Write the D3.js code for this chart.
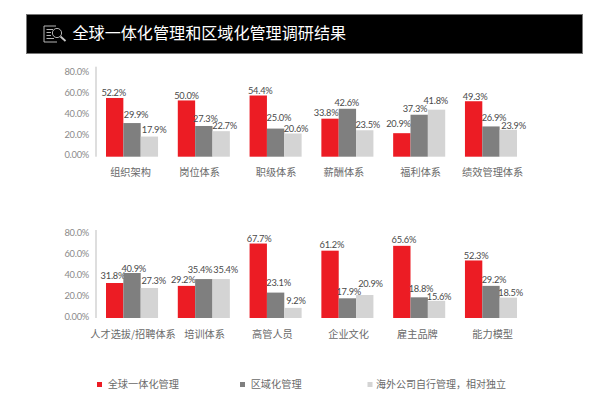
<!DOCTYPE html>
<html>
<head>
<meta charset="utf-8">
<script src="https://cdn.jsdelivr.net/npm/d3@7/dist/d3.min.js"></script>
<style>
  html, body { margin: 0; padding: 0; background: #fff; }
  svg { display: block; }
  text { font-family: "Noto Sans CJK SC", "Noto Sans", sans-serif; }
  .num { font-family: Lato, "Liberation Sans", sans-serif; letter-spacing: -0.25px; }
</style>
</head>
<body>
<svg id="chart" width="600" height="411"></svg>
<script>
const title = "全球一体化管理和区域化管理调研结果";
const seriesNames = ["全球一体化管理", "区域化管理", "海外公司自行管理，相对独立"];
const seriesColors = ["#ec1c24", "#7f7f7f", "#d4d4d4"];
const tickValues = [0, 20, 40, 60, 80];
const tickLabels = ["0.00%", "20.0%", "40.0%", "60.0%", "80.0%"];

const topCategories = ["组织架构", "岗位体系", "职级体系", "薪酬体系", "福利体系", "绩效管理体系"];
const topGlobal = [52.2, 50.0, 54.4, 33.8, 20.9, 49.3];
const topRegional = [29.9, 27.3, 25.0, 42.6, 37.3, 26.9];
const topOverseas = [17.9, 22.7, 20.6, 23.5, 41.8, 23.9];

const bottomCategories = ["人才选拔/招聘体系", "培训体系", "高管人员", "企业文化", "雇主品牌", "能力模型"];
const bottomGlobal = [31.8, 29.2, 67.7, 61.2, 65.6, 52.3];
const bottomRegional = [40.9, 35.4, 23.1, 17.9, 18.8, 29.2];
const bottomOverseas = [27.3, 35.4, 9.2, 20.9, 15.6, 18.5];

// Hand placement of value labels so that neighbours do not collide: [dx, dy] per bar.
const topNudges = [
  [[-1, .6], [4, -2.3], [4.7, -.6]],
  [[0, .7], [1.5, -1.7], [3.5, .3]],
  [[2, .6], [3.3, -4.6], [3, 1]],
  [[-4, 0], [-.7, -.6], [3, .3]],
  [[-3.4, -3.4], [-4.2, -.7], [-.8, -3]],
  [[1.5, 1], [3, -3], [5.3, 1.3]]
];
const bottomNudges = [
  [[-1.8, -2], [1.7, 1], [4.3, -1.3]],
  [[-3.3, -.7], [-3.8, -4], [4.5, -4]],
  [[.8, .6], [3, -3.6], [3, -1.7]],
  [[1.8, .3], [1.3, -1], [5.7, -5.6]],
  [[2, 0], [1.8, -2.7], [2.5, 1.7]],
  [[2.5, .7], [3, -.7], [2.3, .6]]
];

// Category captions do not sit exactly under their groups
const topCaptionShift = [-1.5, -4.2, 0.5, -3.5, 1.5, 1.7];
const bottomCaptionShift = [1, 0.8, -3.2, 1.2, -1.8, 1.7];

const svg = d3.select("#chart");

// Header band with title and report-search icon
svg.append("rect")
  .attr("x", 26.5).attr("y", 14.5).attr("width", 556).attr("height", 39)
  .attr("fill", "#000").attr("stroke", "#777").attr("stroke-width", 1);

const icon = svg.append("g").attr("fill", "none").attr("stroke", "#c8c8c8").attr("stroke-width", 0.9);
icon.append("path").attr("d", "M56 26H44V42H57");
icon.append("path").attr("d", "M46.5 29.5H53M46.5 32.5H51M46.5 35.5H51M46.5 38.5H54");
icon.append("circle").attr("cx", 57).attr("cy", 33).attr("r", 4.6);
icon.append("path").attr("d", "M60.5 36.5L65.5 41").attr("stroke-width", 1.8);

svg.append("text")
  .attr("x", 72.5).attr("y", 38.8)
  .attr("fill", "#fff").attr("font-size", 16.1)
  .text(title);

function drawPanel(cfg) {
  const g = svg.append("g");
  const x = d3.scaleBand().domain(cfg.categories).range([106, 517]).paddingInner(0.275);
  const inner = d3.scaleBand().domain(d3.range(3)).range([0, x.bandwidth()]);
  const y = d3.scaleLinear().domain([0, 80]).range([cfg.base, cfg.top]);
  // The printed tick labels sit on a slightly tighter ladder than the bar scale
  const yLabels = d3.scaleLinear().domain([0, 80]).range(cfg.labelRange);

  const axis = d3.axisLeft(yLabels)
    .tickValues(tickValues)
    .tickFormat((d, i) => tickLabels[i])
    .tickSize(0).tickPadding(0);
  const axisG = g.append("g").attr("transform", "translate(89,0)").call(axis);
  axisG.select(".domain").remove();
  axisG.selectAll("text")
    .attr("class", "num").attr("font-size", 9.3).attr("fill", "#8a8a8a");

  g.append("line")
    .attr("x1", 96).attr("x2", 96)
    .attr("y1", y(80)).attr("y2", y(0))
    .attr("stroke", "#bdbdbd").attr("stroke-width", 1);

  const groups = g.selectAll("g.group").data(cfg.categories).join("g")
    .attr("class", "group")
    .attr("transform", d => `translate(${x(d)},0)`);

  cfg.series.forEach((values, s) => {
    groups.append("rect")
      .attr("x", inner(s))
      .attr("width", inner.bandwidth())
      .attr("y", (d, i) => y(values[i]))
      .attr("height", (d, i) => y(0) - y(values[i]))
      .attr("fill", seriesColors[s]);

    groups.append("text")
      .attr("class", "num")
      .attr("text-anchor", "middle")
      .attr("dominant-baseline", "central")
      .attr("x", (d, i) => inner(s) + inner.bandwidth() / 2 + cfg.nudges[i][s][0])
      .attr("y", (d, i) => y(values[i]) - 6 + cfg.nudges[i][s][1])
      .attr("font-size", 9.3)
      .attr("fill", "#4a4a4a")
      .text((d, i) => d3.format(".1f")(values[i]) + "%");
  });

  groups.append("text")
    .attr("x", (d, i) => x.bandwidth() / 2 + cfg.captionShift[i])
    .attr("y", cfg.base + 19.5)
    .attr("text-anchor", "middle")
    .attr("font-size", 10.2)
    .attr("fill", "#6a6a6a")
    .text(d => d);
}

drawPanel({
  categories: topCategories,
  series: [topGlobal, topRegional, topOverseas],
  nudges: topNudges,
  captionShift: topCaptionShift,
  base: 156.7, top: 66.7, labelRange: [155, 72]
});
drawPanel({
  categories: bottomCategories,
  series: [bottomGlobal, bottomRegional, bottomOverseas],
  nudges: bottomNudges,
  captionShift: bottomCaptionShift,
  base: 318, top: 230, labelRange: [316.3, 233]
});

// Legend along the bottom
const legendMarkers = d3.scaleOrdinal().domain(seriesNames).range([97, 240, 367.5]);
const legend = svg.append("g").selectAll("g").data(seriesNames).join("g")
  .attr("transform", d => `translate(${legendMarkers(d)},384.5)`);
legend.append("rect")
  .attr("x", 0).attr("y", -2.5).attr("width", 5).attr("height", 5)
  .attr("fill", (d, i) => seriesColors[i]);
legend.append("text")
  .attr("x", (d, i) => i === 2 ? 8.5 : 10.7)
  .attr("y", 3.7)
  .attr("font-size", (d, i) => i === 2 ? 10 : 10.2)
  .attr("fill", "#6a6a6a")
  .text(d => d);
</script>
</body>
</html>
